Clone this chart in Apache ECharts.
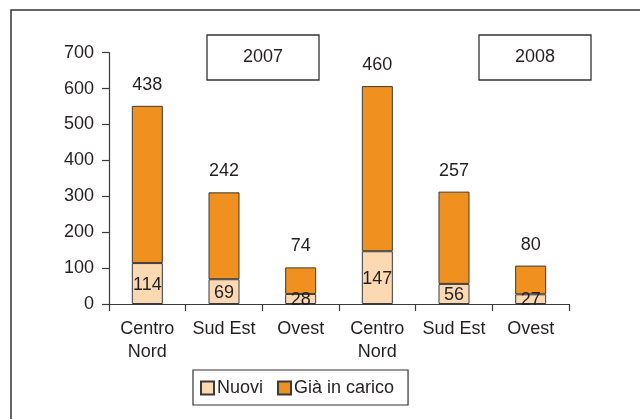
<!DOCTYPE html>
<html>
<head>
<meta charset="utf-8">
<script src="https://cdn.jsdelivr.net/npm/echarts@6/dist/echarts.min.js"></script>
<style>html,body{margin:0;padding:0;background:#fff}#c{width:640px;height:419px}</style>
</head>
<body>
<div id="c"></div>
<script>
var categories = ['Centro\nNord', 'Sud Est', 'Ovest', 'Centro\nNord', 'Sud Est', 'Ovest'];
var nuovi = [114, 69, 28, 147, 56, 27];
var giaInCarico = [438, 242, 74, 460, 257, 80];
var yearLabels = ['2007', '2008'];
var yTicks = { min: 0, max: 700, interval: 100 };

var FONT = 'Liberation Sans, Arial, sans-serif';
var TXT = '#231f20';
var AX = '#3a3a3a';

var chart = echarts.init(document.getElementById('c'), null, { renderer: 'canvas' });

function yearBox(x, y, label) {
  return {
    type: 'group', x: x, y: y,
    children: [
      { type: 'rect', shape: { x: 0, y: 0, width: 112, height: 45 },
        style: { fill: '#fff', stroke: '#333', lineWidth: 1.3 } },
      { type: 'text', x: 56, y: 22.5,
        style: { text: label, font: '18px ' + FONT, fill: TXT, align: 'center', verticalAlign: 'middle' } }
    ]
  };
}

chart.setOption({
  backgroundColor: '#fff',
  animation: false,
  textStyle: { fontFamily: FONT },
  graphic: [
    { type: 'rect', shape: { x: 11, y: 10, width: 700, height: 500 },
      style: { fill: 'none', stroke: '#333', lineWidth: 1.5 }, z: -10 },
    yearBox(207, 35, yearLabels[0]),
    yearBox(479, 35, yearLabels[1])
  ],
  grid: { left: 109, right: 71, top: 52.7, bottom: 115, containLabel: false },
  legend: {
    left: 193, top: 370,
    padding: [9, 14, 8, 7],
    borderColor: '#333', borderWidth: 1.2, borderRadius: 0,
    itemWidth: 13, itemHeight: 13, itemGap: 14,
    icon: 'rect',
    textStyle: { fontSize: 18, color: TXT, fontFamily: FONT, padding: [0, 0, 0, -2] },
    data: ['Nuovi', 'Già in carico']
  },
  xAxis: {
    type: 'category',
    data: categories,
    axisLine: { lineStyle: { color: AX, width: 1.2 } },
    axisTick: { show: true, length: 7, lineStyle: { color: AX, width: 1.2 } },
    axisLabel: { fontSize: 18, color: TXT, lineHeight: 23, margin: 14, interval: 0, fontFamily: FONT }
  },
  yAxis: {
    type: 'value',
    min: yTicks.min, max: yTicks.max, interval: yTicks.interval,
    splitLine: { show: false },
    axisLine: { show: true, lineStyle: { color: AX, width: 1.2 } },
    axisTick: { show: true, length: 7, lineStyle: { color: AX, width: 1.2 } },
    axisLabel: { fontSize: 18, color: TXT, margin: 15, fontFamily: FONT }
  },
  series: [
    {
      name: 'Nuovi', type: 'bar', stack: 'tot', barWidth: 31,
      data: nuovi,
      itemStyle: { color: '#fcd9b3', borderColor: '#3a3a3a', borderWidth: 1 },
      label: { show: true, position: 'inside', fontSize: 18, color: TXT, fontFamily: FONT, offset: [0, 1] }
    },
    {
      name: 'Già in carico', type: 'bar', stack: 'tot', barWidth: 31,
      data: giaInCarico,
      itemStyle: { color: '#f0901e', borderColor: '#3a3a3a', borderWidth: 1 },
      label: { show: true, position: 'top', distance: 12, fontSize: 18, color: TXT, fontFamily: FONT }
    }
  ]
});
</script>
</body>
</html>
